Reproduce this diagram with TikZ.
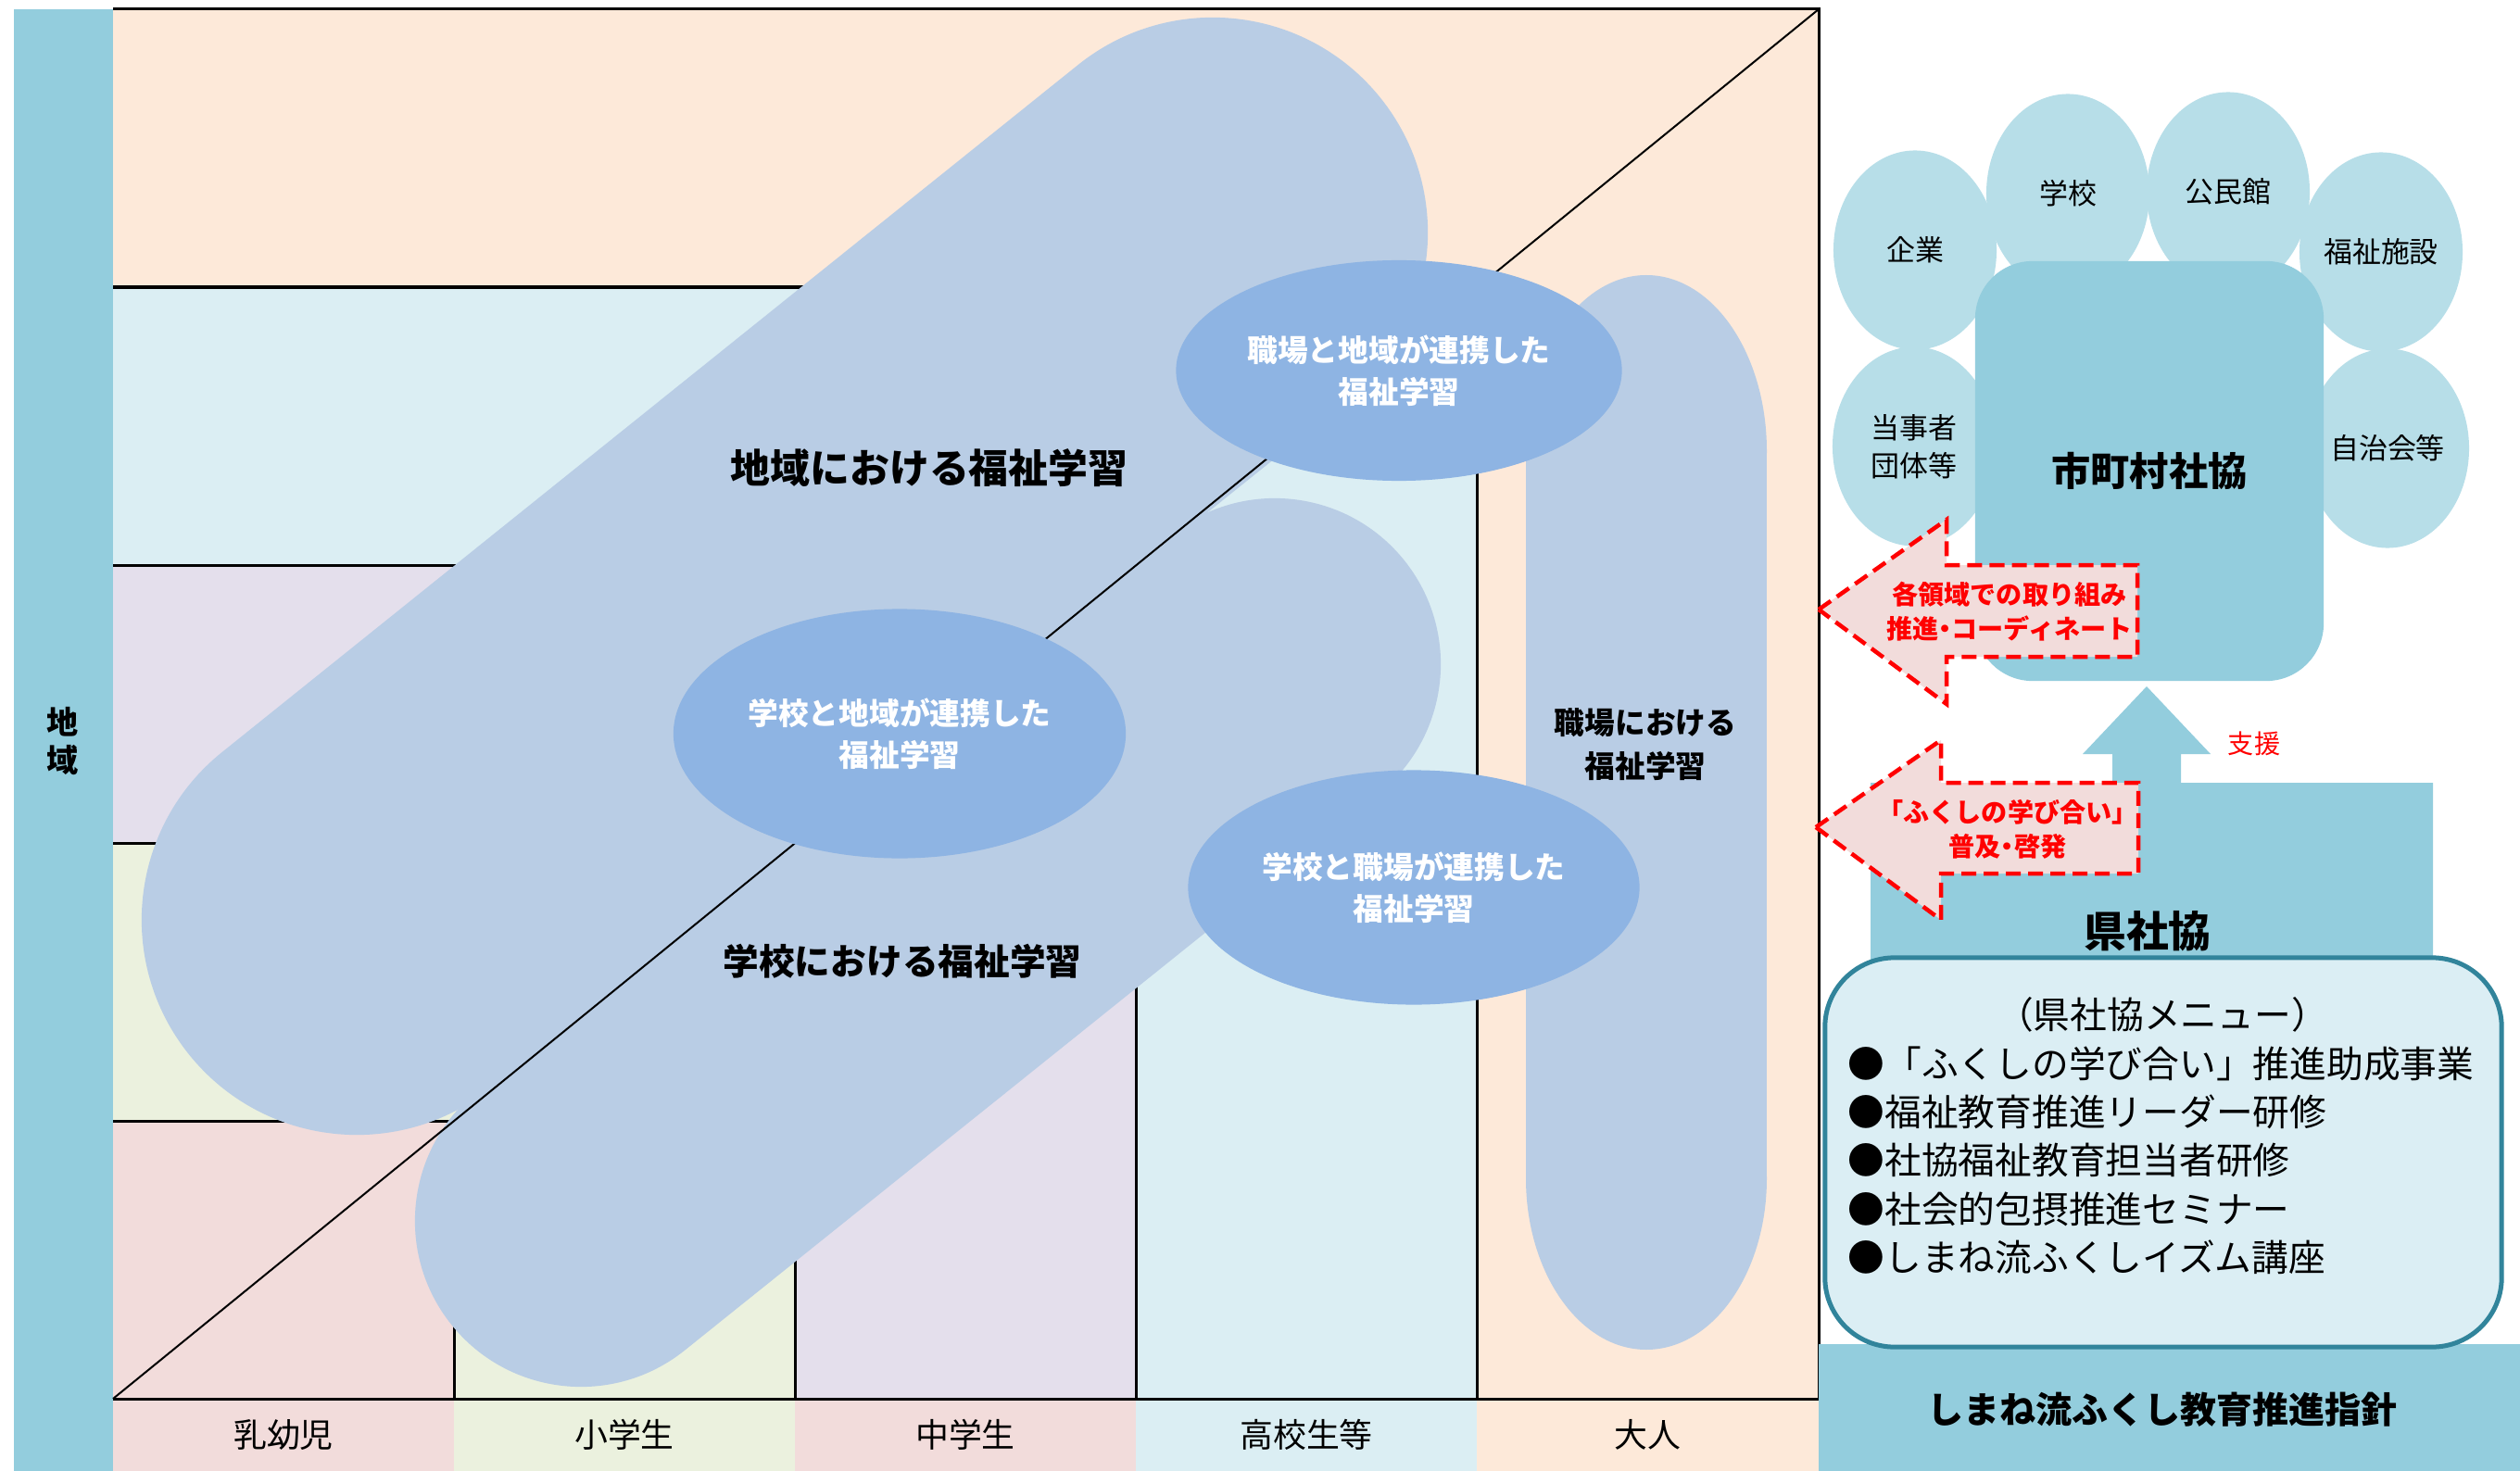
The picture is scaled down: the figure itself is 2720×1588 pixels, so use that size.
\documentclass[tikz,border=0pt]{standalone}
\usepackage{fontspec}
\setmainfont{Noto Sans CJK JP}
\usetikzlibrary{shapes.geometric}
\definecolor{cPeach}{HTML}{FDE9D9}
\definecolor{cLBlue}{HTML}{DBEEF3}
\definecolor{cLav}{HTML}{E4DFEC}
\definecolor{cGreen}{HTML}{EBF1DE}
\definecolor{cPink}{HTML}{F2DCDB}
\definecolor{cBlob}{HTML}{B9CDE5}
\definecolor{cEll}{HTML}{8EB4E3}
\definecolor{cTeal}{HTML}{93CDDD}
\definecolor{cPetal}{HTML}{B7DEE8}
\definecolor{cMenu}{HTML}{DBEEF4}
\definecolor{cMenuBd}{HTML}{31849B}
\definecolor{cRed}{HTML}{FF0000}
\newcommand{\fs}[2]{\fontsize{#1pt}{#2pt}\selectfont}
\newcommand{\nkdot}{\hbox to 0.5em{\hss・\hss}}
\newcommand{\nkopen}{\hbox to 0.55em{\hss「}}
\newcommand{\nkclose}{\hbox to 0.55em{」\hss}}
\begin{document}
\begin{tikzpicture}[x=0.01cm,y=-0.01cm,
  txt/.style={inner sep=0pt, align=center},
  gl/.style={line width=0.03cm, draw=black},
  blobline/.style={draw=cBlob, line cap=round},
  ellbox/.style={ellipse, fill=cEll, text=white, align=center, inner sep=0pt, font=\fs{9.3}{12.8}\bfseries},
  petal/.style={ellipse, fill=cPetal, minimum width=1.76cm, minimum height=2.15cm, inner sep=0pt, align=center, font=\fs{8.8}{11.7}},
  agecell/.style={rectangle, minimum width=3.68cm, minimum height=0.78cm, inner sep=0pt, font=\fs{10.2}{12}},
  redarrow/.style={fill=cPink, draw=cRed, line width=0.045cm, dash pattern=on 0.16cm off 0.08cm},
  redtxt/.style={txt, text=cRed, font=\fs{8}{10.5}\bfseries},
  menuitem/.style={inner sep=0pt, anchor=west, font=\fs{11.3}{13}},
]
\useasboundingbox (0,0) rectangle (2720,1588);
\fill[white] (0,0) rectangle (2720,1588);

% left bar
\node[fill=cTeal, minimum width=1.08cm, minimum height=15.79cm, inner sep=0pt, anchor=north west] (bar) at (14,9) {};
\node[txt, font=\fs{9.7}{11.7}\bfseries] (chiiki) at (68,800) {地\\域};

% staircase cells
\fill[cPeach] (122,10) rectangle (1963,1510);
\fill[cLBlue] (122,310) rectangle (1594,1510);
\fill[cLav] (122,610) rectangle (1226,1510);
\fill[cGreen] (122,910) rectangle (858,1510);
\fill[cPink] (122,1210) rectangle (490,1510);

% age label cells
\node[agecell, fill=cPink] (age1) at (306,1549) {乳幼児};
\node[agecell, fill=cGreen] (age2) at (674,1549) {小学生};
\node[agecell, fill=cPink] (age3) at (1042,1549) {中学生};
\node[agecell, fill=cLBlue] (age4) at (1410,1549) {高校生等};
\node[agecell, fill=cPeach] (age5) at (1778.5,1549) {大人};

% grid lines
\draw[gl] (122,10) -- (1963,10) -- (1963,1510) -- (122,1510);
\draw[gl] (122,310) -- (1594,310) -- (1594,1510);
\draw[gl] (122,610) -- (1226,610) -- (1226,1510);
\draw[gl] (122,910) -- (858,910) -- (858,1510);
\draw[gl] (122,1210) -- (490,1210) -- (490,1510);

% blobs
\coordinate (b1a) at (385,993);
\coordinate (b1b) at (1309,251);
\coordinate (b2a) at (627,1318);
\coordinate (b2b) at (1376,717);
\draw[blobline, line width=4.64cm] (b1a) -- (b1b);
\draw[blobline, line width=3.58cm] (b2a) -- (b2b);
\fill[cBlob] (1777,487) ellipse[x radius=130, y radius=190];
\fill[cBlob] (1777,1272) ellipse[x radius=130, y radius=185];
\fill[cBlob] (1647,487) rectangle (1907,1272);

% diagonal
\coordinate (origin) at (122,1510);
\coordinate (corner) at (1963,10);
\draw[line width=0.02cm] (origin) -- (corner);

% overlap ellipses
\node[ellbox, minimum width=4.81cm, minimum height=2.38cm] (e1) at (1510,400) {職場と地域が連携した\\福祉学習};
\node[ellbox, minimum width=4.88cm, minimum height=2.69cm] (e2) at (971,792) {学校と地域が連携した\\福祉学習};
\node[ellbox, minimum width=4.87cm, minimum height=2.53cm] (e3) at (1526,958) {学校と職場が連携した\\福祉学習};

% blob labels
\node[txt, font=\fs{12.2}{14}\bfseries] (t1) at (1003,505) {地域における福祉学習};
\node[txt, font=\fs{11}{13}\bfseries] (t2) at (974,1038) {学校における福祉学習};
\node[txt, font=\fs{9.3}{13.4}\bfseries] (t3) at (1776,804) {職場における\\福祉学習};

% petals
\node[petal] (p1) at (2067,270) {企業};
\node[petal] (p2) at (2232,209) {学校};
\node[petal] (p3) at (2405,207) {公民館};
\node[petal] (p4) at (2570,272) {福祉施設};
\node[petal] (p5) at (2066,482) {当事者\\団体等};
\node[petal] (p6) at (2577,484) {自治会等};
\node[rectangle, rounded corners=0.62cm, fill=cTeal, minimum width=3.76cm, minimum height=4.53cm, inner sep=0pt, font=\fs{12}{14}\bfseries] (shi) at (2320,508.5) {市町村社協};

% red arrow 1
\draw[redarrow] (1963,658) -- (2101,561) -- (2101,610) -- (2307,610) -- (2307,709) -- (2101,709) -- (2101,760) -- cycle;
\node[redtxt] (a1t) at (2169,660) {各領域での取り組み\\推進\nkdot コーディネート};

% bottom bar
\node[rectangle, fill=cTeal, minimum width=7.57cm, minimum height=1.37cm, inner sep=0pt] (shishin) at (2341.5,1519.5) {};

% prefecture shape
\fill[cTeal] (2019,845) -- (2280,845) -- (2280,814) -- (2248,814) -- (2317,741) -- (2386,814) -- (2354,814) -- (2354,845) -- (2626,845) -- (2626,1451) -- (2019,1451) -- cycle;
\node[txt, font=\fs{13}{15}\bfseries] (ken) at (2318,1005) {県社協};
\node[txt, text=cRed, font=\fs{8}{10}] (shien) at (2433,803) {支援};

% red arrow 2
\draw[redarrow] (1960,893) -- (2095,799) -- (2095,845) -- (2308,845) -- (2308,943) -- (2095,943) -- (2095,993) -- cycle;
\node[redtxt] (a2t) at (2167,895) {\nkopen ふくしの学び合い\nkclose\\普及\nkdot 啓発};

% menu box
\node[rectangle, rounded corners=0.75cm, fill=cMenu, draw=cMenuBd, line width=0.05cm, minimum width=7.3cm, minimum height=4.2cm, inner sep=0pt] (menu) at (2335,1244) {};
\node[txt, font=\fs{11.3}{13}] (mtitle) at (2334,1095) {（県社協メニュー）};
\node[menuitem] (m1) at (1994,1148) {●「ふくしの学び合い」推進助成事業};
\node[menuitem] (m2) at (1994,1200) {●福祉教育推進リーダー研修};
\node[menuitem] (m3) at (1994,1252) {●社協福祉教育担当者研修};
\node[menuitem] (m4) at (1994,1305) {●社会的包摂推進セミナー};
\node[menuitem] (m5) at (1994,1357) {●しまね流ふくしイズム講座};

\node[txt, font=\fs{11.1}{13}\bfseries] (shishint) at (2334,1522) {しまね流ふくし教育推進指針};
\end{tikzpicture}
\end{document}
